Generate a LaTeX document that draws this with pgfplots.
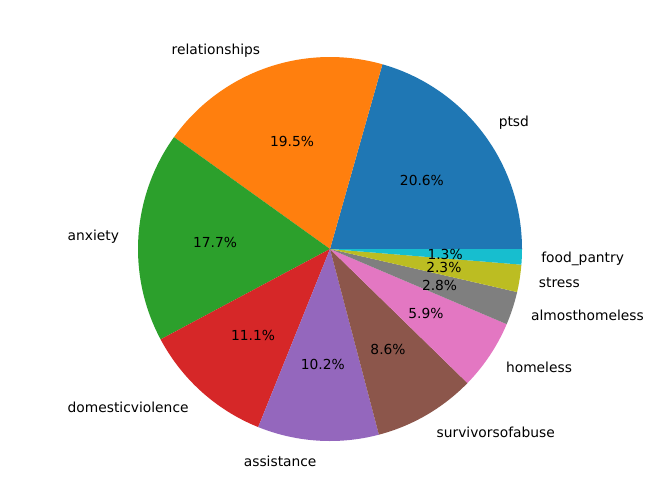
\documentclass[border=0pt]{standalone}
\usepackage{pgfplots}
\pgfplotsset{compat=1.18}
\usepackage{fontspec}
\setmainfont{DejaVu Sans}
\definecolor{c0}{HTML}{1F77B4}
\definecolor{c1}{HTML}{FF7F0E}
\definecolor{c2}{HTML}{2CA02C}
\definecolor{c3}{HTML}{D62728}
\definecolor{c4}{HTML}{9467BD}
\definecolor{c5}{HTML}{8C564B}
\definecolor{c6}{HTML}{E377C2}
\definecolor{c7}{HTML}{7F7F7F}
\definecolor{c8}{HTML}{BCBD22}
\definecolor{c9}{HTML}{17BECF}
% #1 cumulative start (%), #2 cumulative end (%), #3 colour, #4 label, #5 anchor, #6 pct text
\newcommand\slice[6]{%
  \addplot[fill=#3, draw=none, domain={#1*3.6}:{#2*3.6}, samples=80]
    ({cos(x)},{sin(x)}) -- (axis cs:0,0) -- cycle;
  \node[anchor=#5, inner sep=0pt, yshift=-1pt] at (axis cs:{1.1*cos((#1+#2)*1.8)},{1.1*sin((#1+#2)*1.8)}) {#4};
  \node[inner sep=0pt, yshift=-0.7pt] at (axis cs:{0.6*cos((#1+#2)*1.8)},{0.6*sin((#1+#2)*1.8)}) {#6};
}
\begin{document}
\begin{tikzpicture}
\begin{axis}[
  scale only axis, width=6.875in, height=5.198in,
  xmin=-1.71875, xmax=1.71875, ymin=-1.3021, ymax=1.2969,
  hide axis, clip=false,
  font=\fontsize{10.4}{12}\selectfont,
]
\slice{0}{20.6}{c0}{ptsd}{west}{20.6\%}
\slice{20.6}{40.1}{c1}{relationships}{east}{19.5\%}
\slice{40.1}{57.8}{c2}{anxiety}{east}{17.7\%}
\slice{57.8}{68.9}{c3}{domesticviolence}{east}{11.1\%}
\slice{68.9}{79.1}{c4}{assistance}{east}{10.2\%}
\slice{79.1}{87.7}{c5}{survivorsofabuse}{west}{8.6\%}
\slice{87.7}{93.6}{c6}{homeless}{west}{5.9\%}
\slice{93.6}{96.4}{c7}{almosthomeless}{west}{2.8\%}
\slice{96.4}{98.7}{c8}{stress}{west}{2.3\%}
\slice{98.7}{100}{c9}{food\_pantry}{west}{1.3\%}
\end{axis}
\path (current axis.south west) rectangle (current axis.north east);
\end{tikzpicture}
\end{document}
